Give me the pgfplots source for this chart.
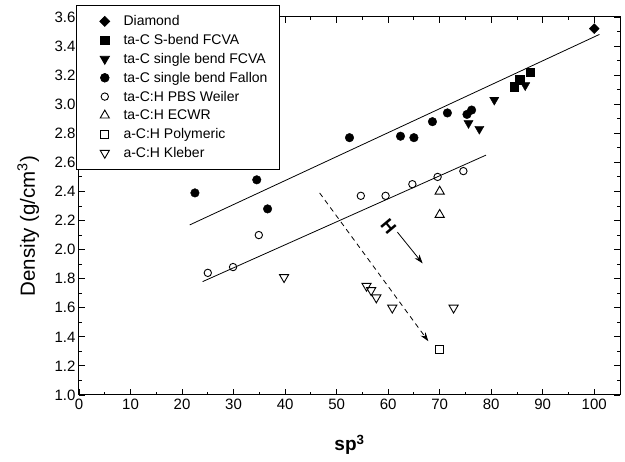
\documentclass[border=0pt]{standalone}
\usepackage{fontspec}
\setmainfont{Liberation Sans}
\usepackage{pgfplots}
\pgfplotsset{compat=1.18}
\usetikzlibrary{arrows.meta}
\begin{document}
\begin{tikzpicture}
\begin{axis}[name=ax,
  scale only axis, width=541pt, height=378pt,
  xmin=0, xmax=105, ymin=1.0, ymax=3.6,
  xtick={0,10,...,100}, minor xtick={5,15,...,105},
  ytick={1.0,1.2,...,3.61}, minor ytick={1.1,1.3,...,3.5},
  tick align=inside, major tick length=6pt, minor tick length=3pt,
  tick style={line width=0.9pt, black},
  axis line style={line width=1pt},
  xticklabel style={font=\fontsize{15}{15}\selectfont},
  yticklabel style={font=\fontsize{15}{15}\selectfont, /pgf/number format/fixed, /pgf/number format/fixed zerofill, /pgf/number format/precision=1},
  /pgf/number format/assume math mode=true,
  xlabel={\textbf{sp\textsuperscript{3}}},
  ylabel={Density (g/cm\textsuperscript{3})},
  xlabel style={font=\fontsize{19}{19}\selectfont, at={(axis description cs:0.5,-0.132)}, anchor=center},
  ylabel style={font=\fontsize{20.5}{20.5}\selectfont, at={(axis description cs:-0.094,0.447)}, anchor=center},
  legend style={at={(0,1)}, anchor=north west, yshift=12pt, xshift=-3pt,
    draw=black, line width=0.8pt, fill=white,
    font=\fontsize{14}{15}\selectfont,
    inner xsep=11.8pt, inner ysep=10pt, row sep=6.8pt, column sep=13.8pt,
    nodes={inner sep=0pt}},
  legend cell align=left,
  legend image code/.code={\path (0pt,0pt); \draw[#1] plot coordinates {(16.2pt,0pt)};},
]
% fit lines
\addplot[black, line width=0.8pt, forget plot] coordinates {(21.5,2.17) (101,3.48)};
\addplot[black, line width=0.8pt, forget plot] coordinates {(24,1.78) (79,2.65)};
\addplot[black, line width=0.8pt, dash pattern=on 5pt off 4pt, -{Stealth[length=9pt,width=6pt]}, forget plot] coordinates {(46.7,2.39) (67.8,1.37)};
\addplot[black, line width=0.8pt, -{Stealth[length=9pt,width=6pt]}, forget plot] coordinates {(61.8,2.12) (66.7,1.905)};
% series
\addplot[only marks, mark=square*, mark size=3.5pt, mark options={rotate=45, fill=black}] coordinates {(100,3.52)};
\addlegendentry{\strut Diamond}
\addplot[only marks, mark=square*, mark size=4.2pt, mark options={fill=black}] coordinates {(84.5,3.12) (85.5,3.17) (87.6,3.22)};
\addlegendentry{\strut ta-C S-bend FCVA}
\addplot[only marks, mark=triangle*, mark size=5.3pt, mark options={rotate=180, fill=black}] coordinates {(86.6,3.13) (80.6,3.03) (75.6,2.87) (77.7,2.83)};
\addlegendentry{\strut ta-C single bend FCVA}
\addplot[only marks, mark=*, mark size=4.3pt, mark options={fill=black}] coordinates {(22.5,2.39) (34.5,2.48) (36.6,2.28) (52.5,2.77) (62.4,2.78) (65,2.77) (68.6,2.88) (71.5,2.94) (75.3,2.93) (76.2,2.96)};
\addlegendentry{\strut ta-C single bend Fallon}
\addplot[only marks, mark=o, mark size=3.7pt, mark options={line width=0.9pt, fill=white}] coordinates {(25,1.84) (29.9,1.88) (34.9,2.10) (54.7,2.37) (59.5,2.37) (64.7,2.45) (69.6,2.50) (74.6,2.54)};
\addlegendentry{\strut ta-C:H PBS Weiler}
\addplot[only marks, mark=triangle, mark size=5.3pt, mark options={line width=0.9pt}] coordinates {(70,2.40) (70,2.24)};
\addlegendentry{\strut ta-C:H ECWR}
\addplot[only marks, mark=square, mark size=4pt, mark options={line width=0.9pt}] coordinates {(70,1.31)};
\addlegendentry{\strut a-C:H Polymeric}
\addplot[only marks, mark=triangle, mark size=5.3pt, mark options={rotate=180, line width=0.9pt}] coordinates {(39.8,1.81) (55.8,1.75) (56.7,1.72) (57.7,1.67) (60.8,1.60) (72.7,1.60)};
\addlegendentry{\strut a-C:H Kleber}
\node[rotate=-50, font=\bfseries\fontsize{18}{18}\selectfont, inner sep=0pt] at (axis cs:60.1,2.16) {H};
\end{axis}
\pgfresetboundingbox
\path[use as bounding box] ([shift={(-79pt,-67pt)}]ax.south west) rectangle ([shift={(5pt,17pt)}]ax.north east);
\end{tikzpicture}
\end{document}
